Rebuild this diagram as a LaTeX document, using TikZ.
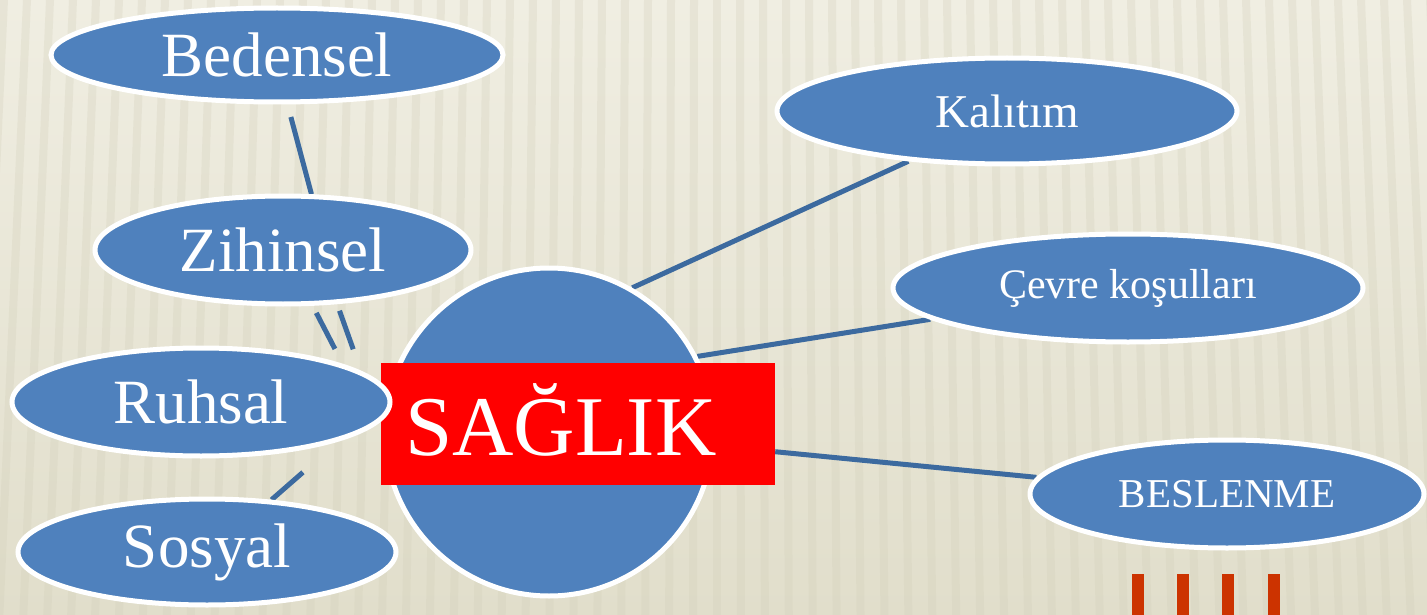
\documentclass[tikz,border=0pt]{standalone}
\usepackage{fontspec}
\setmainfont{Liberation Serif}
\usetikzlibrary{shapes.geometric,backgrounds}
\definecolor{ovalblue}{HTML}{4F81BD}
\definecolor{linkblue}{HTML}{3C6A9F}
\definecolor{paper}{HTML}{F0EEE2}
\definecolor{paperdark}{HTML}{E1DECB}
\definecolor{stripe}{HTML}{D3D0BB}
\definecolor{barred}{HTML}{CC3300}
\newcommand{\setfs}[1]{\fontsize{#1}{#1}\selectfont}

\begin{document}
\begin{tikzpicture}[x=1pt,y=-1pt]
\tikzstyle{oval}=[ellipse, inner sep=0pt, fill=ovalblue, draw=white, line width=5pt, text=white]
\tikzstyle{link}=[draw=linkblue, line width=5pt]
\useasboundingbox (0,0) rectangle (1427,615);
%background
\begin{scope}[on background layer]
\shade[top color=paper, bottom color=paperdark] (0,0) rectangle (1427,615);
\foreach \x in {0,23,...,1450}
  \fill[stripe, opacity=0.3] (\x,0) -- (\x+8,0) -- ({\x+8+(\x-713)*0.04},615) -- ({\x+(\x-713)*0.04},615) -- cycle;
\end{scope}
%center
\node[circle, fill=ovalblue, draw=white, line width=5pt, minimum size=328pt, inner sep=0pt] (sag) at (549,432) {};
\node[fill=red, text=white, minimum height=122pt, text width=346pt, inner xsep=24pt, inner ysep=0pt, text height=62pt, text depth=0pt, align=left, font=\setfs{85}] (lab) at (578,424) {SAĞLIK};
%left
\node[oval, minimum width=452pt, minimum height=94pt, font=\setfs{63}] (bed) at (277,55) {Bedensel};
\node[oval, minimum width=376pt, minimum height=108pt, font=\setfs{63}] (zih) at (283,250) {Zihinsel};
\node[oval, minimum width=378pt, minimum height=108pt, font=\setfs{63}] (rhs) at (201,402) {Ruhsal};
\node[oval, minimum width=378pt, minimum height=106pt, font=\setfs{63}] (sos) at (207,552) {Sosyal};
%right
\node[oval, minimum width=460pt, minimum height=106pt, font=\setfs{47}] (kal) at (1007,111) {Kalıtım};
\node[oval, minimum width=470pt, minimum height=108pt, font=\setfs{42}] (cev) at (1128,288) {Çevre koşulları};
\node[oval, minimum width=394pt, minimum height=108pt, font=\setfs{41}] (bes) at (1227,494) {BESLENME};
%links
\begin{scope}[on background layer]
\draw[link, shorten <=13pt] (bed.-78) -- (zih.63);
\draw[link, shorten <=8pt, shorten >=17pt] (zih.-62) -- (rhs.15);
\draw[link, shorten <=7pt, shorten >=23pt] (zih.-45) -- (rhs.11);
\draw[link, shorten <=47pt] (rhs.-16) -- (sos.39);
\draw[link] (sag.60) -- (kal.207);
\draw[link] (sag.27) -- (cev.189);
\draw[link] (lab.-8) -- (bes.175);
\end{scope}
%bars
\foreach \x in {1132,1177,1222,1268}
  \fill[barred] (\x,574) rectangle (\x+12,615);
\end{tikzpicture}
\end{document}
